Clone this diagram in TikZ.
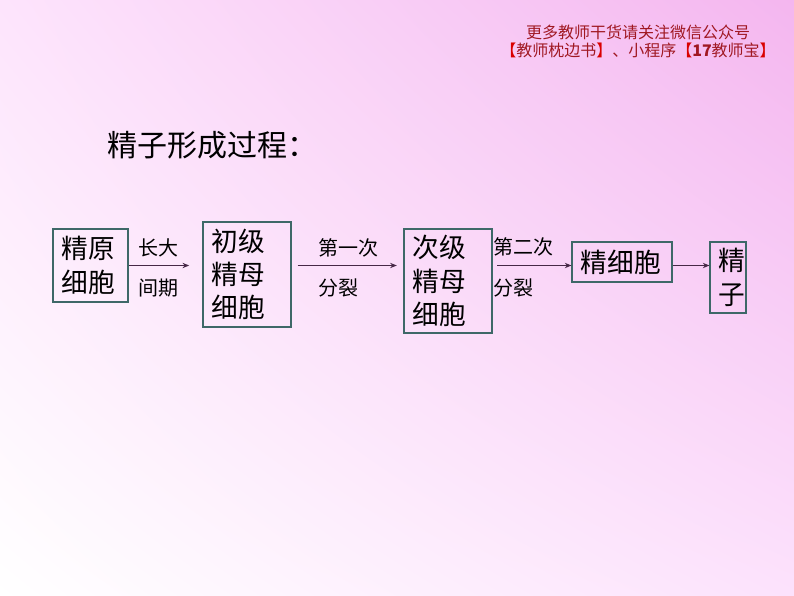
\documentclass[tikz,border=0pt]{standalone}
\usepackage{fontspec}
\setmainfont{Noto Sans CJK SC}
\usepackage{tikz}
\usetikzlibrary{arrows.meta,shadings}
\definecolor{bgTL}{RGB}{253,228,252}
\definecolor{bgTR}{RGB}{244,182,239}
\definecolor{bgBR}{RGB}{252,226,252}
\definecolor{boxline}{RGB}{62,104,104}
\definecolor{arrowline}{RGB}{70,40,70}
\definecolor{notetext}{RGB}{160,24,34}
\definecolor{notebrk}{RGB}{218,0,0}
\tikzset{
  cellbox/.style={draw=boxline, line width=0.8pt, align=left, inner xsep=6.5pt,
    font=\fontsize{20}{25}\selectfont},
  flow/.style={draw=arrowline, line width=0.8pt, -{Stealth[length=5pt,width=4pt]}},
  steplabel/.style={anchor=west, inner sep=0pt, font=\fontsize{15}{18}\selectfont}
}
\begin{document}
\begin{tikzpicture}[x=0.75pt, y=-0.75pt]
%background
\useasboundingbox (0,0) rectangle (794,596);
\shade[upper left=bgTL, upper right=bgTR, lower left=white, lower right=bgBR] (0,0) rectangle (794,596);

%note at the top
\node[align=center, text=notetext, font=\fontsize{12}{13.5}\selectfont] (note) at (638,41)
  {更多教师干货请关注微信公众号\\{\color{notebrk}【}教师枕边书{\color{notebrk}】}、小程序{\color{notebrk}【}\textbf{17}教师宝{\color{notebrk}】}};

%title
\node[anchor=west, font=\fontsize{22.5}{26}\selectfont] (title) at (103,145) {精子形成过程：};

%cells
\node[cellbox, minimum width=75*0.75pt, minimum height=73*0.75pt, text width=75*0.75pt-13pt] (jingyuan)   at (90.5,265.5) {精原\\细胞};
\node[cellbox, minimum width=88*0.75pt, minimum height=105*0.75pt, text width=88*0.75pt-13pt] (chuji)     at (247,274.5) {初级\\精母\\细胞};
\node[cellbox, minimum width=88*0.75pt, minimum height=104*0.75pt, text width=88*0.75pt-13pt] (ciji)      at (448,281) {次级\\精母\\细胞};
\node[cellbox, minimum width=100*0.75pt, minimum height=40*0.75pt, text width=100*0.75pt-13pt] (jingxibao) at (622,262) {精细胞};
\node[cellbox, minimum width=36*0.75pt, minimum height=71*0.75pt, text width=36*0.75pt-13pt] (jingzi)    at (728,277.5) {精\\子};

%arrows
\draw[flow, shorten >=10pt] (jingyuan.east) -- (jingyuan.east -| chuji.west);
\draw[flow, shorten <=4.5pt, shorten >=5pt] (chuji.east |- jingyuan.east) -- (ciji.west |- jingyuan.east);
\draw[flow, shorten <=3.5pt] (ciji.east |- jingyuan.east) -- (jingxibao.west |- jingyuan.east);
\draw[flow] (jingxibao.east |- jingyuan.east) -- (jingzi.west |- jingyuan.east);

%labels
\node[steplabel] (zhangda)  at (138,248) {长大};
\node[steplabel] (jianqi)   at (138,288) {间期};
\node[steplabel] (diyici)   at (318,248) {第一次};
\node[steplabel] (fenlieA)  at (318,288) {分裂};
\node[steplabel] (dierci)   at (493,247) {第二次};
\node[steplabel] (fenlieB)  at (493,288) {分裂};
\end{tikzpicture}
\end{document}
